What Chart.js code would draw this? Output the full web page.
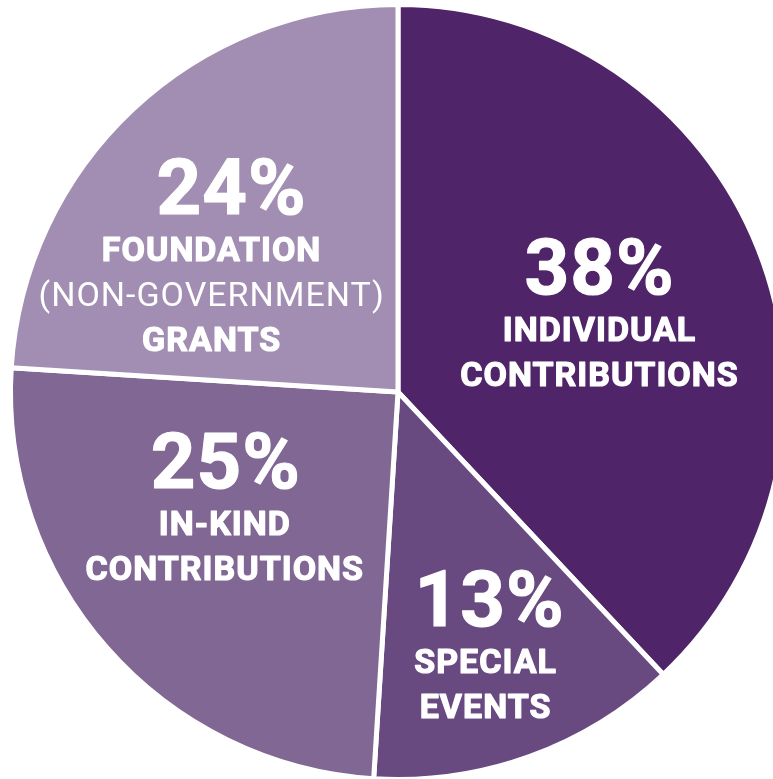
<!DOCTYPE html>
<html>
<head>
<meta charset="utf-8">
<script src="https://cdn.jsdelivr.net/npm/chart.js"></script>
<style>
  html, body { margin: 0; padding: 0; background: #fff; overflow: hidden; width: 773px; height: 779px; }
  #wrap { position: absolute; left: -2px; top: -8px; width: 800px; height: 800px; }
</style>
</head>
<body>
<div id="wrap"><canvas id="myChart" width="800" height="800"></canvas></div>
<script>
'use strict'

// data, clockwise from the top
const categories = ['Individual Contributions', 'Special Events', 'In-Kind Contributions', 'Foundation (Non-Government) Grants'];
const shares = [38, 13, 25, 24];
const colors = ['#4f2468', '#684a80', '#806794', '#a18eb2'];
const captions = [
    ['INDIVIDUAL', 'CONTRIBUTIONS'],
    ['SPECIAL', 'EVENTS'],
    ['IN-KIND', 'CONTRIBUTIONS'],
    ['FOUNDATION', '(NON-GOVERNMENT)', 'GRANTS']
];

// where each label block sits, as a fraction of the radius from the centre
const labelSpots = [
    { x: 0.52, y: -0.252, pct: 0 },
    { x: 0.226, y: 0.605, pct: 4 },
    { x: -0.447, y: 0.249, pct: 1 },
    { x: -0.481, y: -0.46, pct: 20 }
];

// draws one line of white text, a little heavier than plain bold
function heavyText(ctx, text, x, y, bold){
    ctx.fillText(text, x, y);
    if (bold){
        ctx.lineWidth = 1.2;
        ctx.strokeText(text, x, y);
    }
}

const labelPlugin = {
    id: 'sliceLabels',
    afterDraw(chart){
        const ctx = chart.ctx;
        const meta = chart.getDatasetMeta(0);
        ctx.save();
        ctx.fillStyle = '#fff';
        ctx.strokeStyle = '#fff';
        ctx.lineJoin = 'round';
        ctx.textAlign = 'center';
        ctx.textBaseline = 'alphabetic';
        meta.data.forEach((arc, i) => {
            const r = arc.outerRadius;
            const spot = labelSpots[i];
            const x = arc.x + spot.x * r;
            const y = arc.y + spot.y * r;
            // big percent first
            ctx.font = 'bold 78px Roboto';
            ctx.letterSpacing = '1px';
            heavyText(ctx, shares[i] + '%', x + spot.pct, y, true);
            // then the caption lines
            let lineY = y + 47;
            captions[i].forEach(line => {
                const bold = !line.startsWith('(');
                ctx.font = (bold ? 'bold' : 'normal') + ' 34px Roboto';
                ctx.letterSpacing = '1px';
                heavyText(ctx, line, x, lineY, bold);
                lineY += 45;
            });
        });
        ctx.restore();
    }
};

const config = {
    type: 'pie',
    data: {
        labels: categories,
        datasets: [{
            data: shares,
            backgroundColor: colors,
            borderColor: '#fff',
            borderWidth: 5
        }]
    },
    options: {
        responsive: false,
        animation: false,
        events: [],
        layout: { padding: 10 },
        plugins: {
            legend: { display: false },
            tooltip: { enabled: false }
        }
    },
    plugins: [labelPlugin]
};

let myChart = new Chart(document.getElementById('myChart'), config);
</script>
</body>
</html>
